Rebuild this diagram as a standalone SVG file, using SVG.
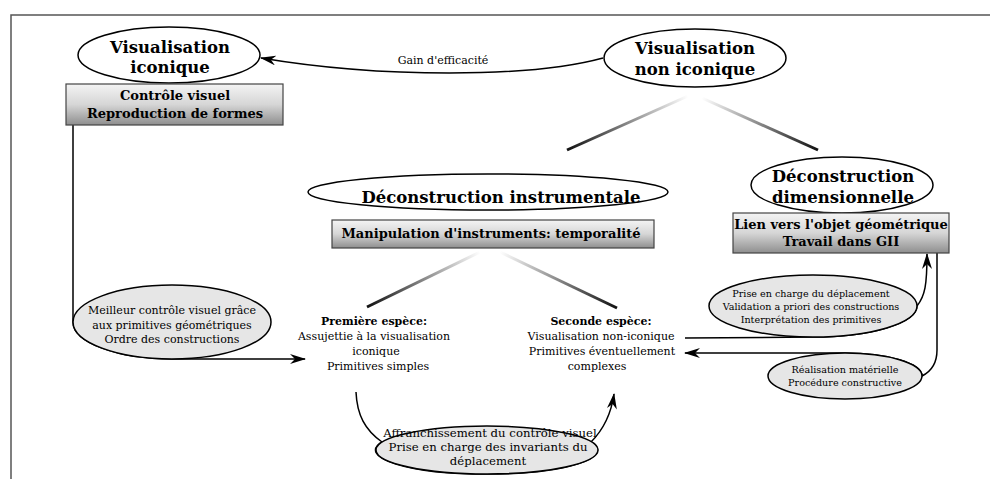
<svg xmlns="http://www.w3.org/2000/svg" width="990" height="479" viewBox="0 0 990 479">
<style>
  text { font-family: "DejaVu Serif", "Liberation Serif", serif; fill: #000; text-anchor: middle; }
  .title { font-size: 16.5px; font-weight: bold; }
  .boxt { font-size: 13px; font-weight: bold; }
  .lab { font-size: 11px; }
  .lab-l { font-size: 11.7px; }
  .lab-b { font-size: 11px; font-weight: bold; }
  .small { font-size: 9.6px; }
  .node { fill: #fff; stroke: #000; stroke-width: 1.5; }
  .note { fill: #e6e6e6; stroke: #000; stroke-width: 1.5; }
  .box { fill: url(#boxgrad); stroke: #444; stroke-width: 1.2; }
  .conn { fill: none; stroke: #000; stroke-width: 1.5; }
  .arr { marker-end: url(#arrow); }
  .frame { fill: none; stroke: #555; stroke-width: 1.5; }
</style>
<defs>
  <linearGradient id="boxgrad" x1="0" y1="0" x2="0" y2="1">
    <stop offset="0" stop-color="#f4f4f4"/>
    <stop offset="0.5" stop-color="#d6d6d6"/>
    <stop offset="1" stop-color="#8e8e8e"/>
  </linearGradient>
  <linearGradient id="gA" gradientUnits="userSpaceOnUse" x1="688" y1="96" x2="567" y2="150">
    <stop offset="0" stop-color="#fff"/><stop offset="1" stop-color="#111"/>
  </linearGradient>
  <linearGradient id="gB" gradientUnits="userSpaceOnUse" x1="702" y1="98" x2="818" y2="150">
    <stop offset="0" stop-color="#fff"/><stop offset="1" stop-color="#111"/>
  </linearGradient>
  <linearGradient id="gC" gradientUnits="userSpaceOnUse" x1="480" y1="252" x2="367" y2="307">
    <stop offset="0" stop-color="#fff"/><stop offset="1" stop-color="#111"/>
  </linearGradient>
  <linearGradient id="gD" gradientUnits="userSpaceOnUse" x1="500" y1="252" x2="617" y2="308">
    <stop offset="0" stop-color="#fff"/><stop offset="1" stop-color="#111"/>
  </linearGradient>
  <marker id="arrow" markerUnits="userSpaceOnUse" viewBox="0 0 16 10" refX="15" refY="5" markerWidth="16" markerHeight="10" orient="auto">
    <path d="M0,0 L16,5 L0,10 L5,5 z" fill="#000"/>
  </marker>
</defs>

<g id="frame">
  <path class="frame" d="M11,479 L11,15 L990,15"/>
</g>

<g id="connectors">
  <path class="conn arr" d="M603,58 C530,78 380,78 261,58"/>
  <text class="lab" x="443" y="64">Gain d'efficacité</text>
  <line x1="688" y1="96" x2="567" y2="150" stroke="url(#gA)" stroke-width="3"/>
  <line x1="702" y1="98" x2="818" y2="150" stroke="url(#gB)" stroke-width="3"/>
  <line x1="480" y1="252" x2="367" y2="307" stroke="url(#gC)" stroke-width="3"/>
  <line x1="500" y1="252" x2="617" y2="308" stroke="url(#gD)" stroke-width="3"/>
  <path class="conn arr" d="M73,125 L73,322 A99,37 0 0 0 172,359 L305,359"/>
  <path class="conn arr" d="M356,392 C357,415 365,430 382,442 A111,24 0 1 0 591,442 C603,430 611,415 614,394"/>
  <path class="conn arr" d="M685,338 L813,337 A104,31 0 0 0 917,306 C925,296 927,285 927,254"/>
  <path class="conn arr" d="M937,253 L937,350 C937,365 930,372 922,376 A77,23 0 0 0 845,353 L685,353"/>
</g>

<g id="vis-iconique">
  <ellipse class="node" cx="169" cy="55" rx="91" ry="28"/>
  <text class="title" x="170" y="53">Visualisation</text>
  <text class="title" x="170" y="73">iconique</text>
</g>
<g id="box-controle">
  <rect class="box" x="66" y="84" width="217" height="41"/>
  <text class="boxt" x="175" y="100">Contrôle visuel</text>
  <text class="boxt" x="175" y="118">Reproduction de formes</text>
</g>

<g id="vis-non-iconique">
  <ellipse class="node" cx="695" cy="58" rx="91" ry="29"/>
  <text class="title" x="695" y="54">Visualisation</text>
  <text class="title" x="695" y="75">non iconique</text>
</g>

<g id="decon-instr">
  <ellipse class="node" cx="488" cy="192" rx="180" ry="18"/>
  <text class="title" x="501" y="203">Déconstruction instrumentale</text>
</g>
<g id="box-manip">
  <rect class="box" x="332" y="220" width="322" height="28"/>
  <text class="boxt" x="491" y="238">Manipulation d'instruments: temporalité</text>
</g>

<g id="decon-dim">
  <ellipse class="node" cx="842" cy="185" rx="91" ry="28"/>
  <text class="title" x="843" y="182">Déconstruction</text>
  <text class="title" x="843" y="203">dimensionnelle</text>
</g>
<g id="box-lien">
  <rect class="box" x="733" y="213" width="216" height="40"/>
  <text class="boxt" x="841" y="229">Lien vers l'objet géométrique</text>
  <text class="boxt" x="841" y="246">Travail dans GII</text>
</g>

<g id="note-meilleur">
  <ellipse class="note" cx="172" cy="322" rx="99" ry="37"/>
  <text class="lab" x="172" y="314">Meilleur contrôle visuel grâce</text>
  <text class="lab" x="172" y="329">aux primitives géométriques</text>
  <text class="lab" x="172" y="343">Ordre des constructions</text>
</g>

<g id="premiere">
  <text class="lab-b" x="374" y="325">Première espèce:</text>
  <text class="lab" x="374" y="340">Assujettie à la visualisation</text>
  <text class="lab" x="376" y="355">iconique</text>
  <text class="lab" x="378" y="370">Primitives simples</text>
</g>

<g id="seconde">
  <text class="lab-b" x="601" y="325">Seconde espèce:</text>
  <text class="lab" x="601" y="340">Visualisation non-iconique</text>
  <text class="lab" x="602" y="355">Primitives éventuellement</text>
  <text class="lab" x="597" y="370">complexes</text>
</g>

<g id="note-affranch">
  <ellipse class="note" cx="487" cy="450" rx="111" ry="24"/>
  <text class="lab-l" x="490" y="437">Affranchissement du contrôle visuel</text>
  <text class="lab-l" x="488" y="451">Prise en charge des invariants du</text>
  <text class="lab-l" x="488" y="465">déplacement</text>
</g>

<g id="note-prise">
  <ellipse class="note" cx="813" cy="306" rx="104" ry="31"/>
  <text class="small" x="811" y="297">Prise en charge du déplacement</text>
  <text class="small" x="811" y="310">Validation a priori des constructions</text>
  <text class="small" x="811" y="323">Interprétation des primitives</text>
</g>

<g id="note-realisation">
  <ellipse class="note" cx="845" cy="376" rx="77" ry="23"/>
  <text class="small" x="845" y="373">Réalisation matérielle</text>
  <text class="small" x="845" y="386">Procédure constructive</text>
</g>
</svg>
